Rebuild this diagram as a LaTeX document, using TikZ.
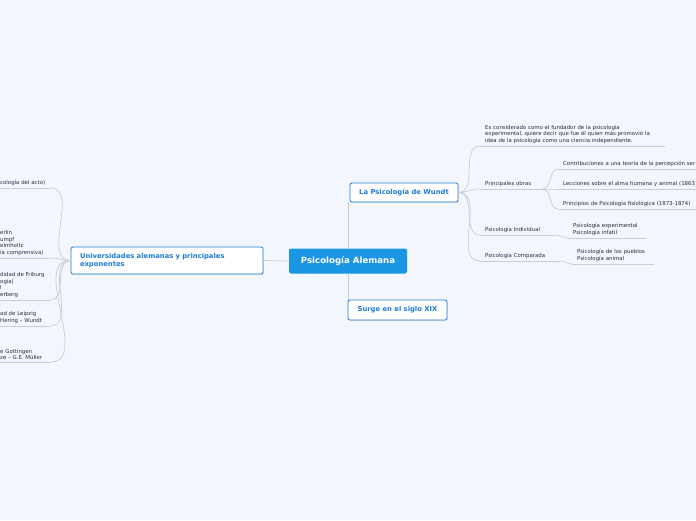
\documentclass[tikz,border=0pt]{standalone}
\usepackage{fontspec}
\setmainfont{DejaVu Sans}
\usetikzlibrary{shadows}
\definecolor{bgblue}{RGB}{243,246,252}
\definecolor{mainblue}{RGB}{27,150,229}
\definecolor{topicblue}{RGB}{29,125,218}
\definecolor{linegray}{RGB}{200,205,213}
\definecolor{leafgray}{RGB}{45,45,55}

\begin{document}
\begin{tikzpicture}[x=1pt,y=-1pt,
  branch/.style={draw=linegray,line width=0.7pt},
  central/.style={fill=mainblue,text=white,rounded corners=2pt,font=\fontsize{8.6}{10}\selectfont\bfseries,minimum width=118pt,minimum height=25pt,inner sep=0pt},
  topic/.style={draw=topicblue,fill=white,text=topicblue,line width=0.8pt,rounded corners=2pt,font=\fontsize{6.8}{8.4}\selectfont\bfseries,inner sep=0pt,drop shadow={opacity=0.2,shadow xshift=0.6pt,shadow yshift=-0.8pt}},
  leaf/.style={anchor=south west,align=left,text=leafgray,font=\fontsize{5.4}{6.7}\selectfont,inner xsep=5pt,inner ysep=2pt},
  edgeleaf/.style={leaf,inner xsep=0pt,text width=50pt}]
\useasboundingbox (0,0) rectangle (696,520);
\clip (0,0) rectangle (696,520);
\fill[bgblue] (0,0) rectangle (696,520);

% main topics
\node[central] (alemana) at (348,261) {Psicología Alemana};
\node[topic,minimum width=108pt,minimum height=19pt] (wundt) at (404,192.5) {La Psicología de Wundt};
\node[topic,minimum width=99pt,minimum height=20pt] (siglo) at (397.5,310) {Surge en el siglo XIX};
\node[topic,minimum width=192pt,minimum height=27pt,text width=174pt,align=left] (univ) at (167,260.5) {Universidades alemanas y principales\\exponentes};

% Wundt
\node[leaf,text width=175pt] (fundador) at (480,146) {Es considerado como el fundador de la psicología\\experimental, quiere decir que fue él quien más promovió la\\idea de la psicología como una ciencia independiente.};
\node[leaf,text width=52pt] (obras) at (480,189) {Principales obras};
\node[leaf,text width=65pt] (individual) at (480,235) {Psicología Individual};
\node[leaf,text width=70pt] (comparada) at (480,261) {Psicología Comparada};
\node[leaf,text width=150pt] (percepcion) at (558,169) {Contribuciones a una teoría de la percepción ser};
\node[leaf,text width=150pt] (lecciones) at (558,189) {Lecciones sobre el alma humana y animal (1863};
\node[leaf,text width=150pt] (principios) at (558,209) {Principios de Psicología fisiológica (1873-1874)};
\node[leaf,text width=68pt] (experimental) at (568,238) {Psicología experimental\\Psicología infatil};
\node[leaf,text width=72pt] (pueblos) at (572,264) {Psicología de los pueblos\\Psicología animal};

% universidades
\node[edgeleaf] (viena) at (0,188) {cología del acto)};
\node[edgeleaf] (berlin) at (0,258) {erlín\\umpf\\elmholtz\\ía comprensiva)};
\node[edgeleaf] (friburg) at (0,300) {didad de Friburg\\ogía)\\l\\erberg};
\node[edgeleaf] (leipzig) at (0,326) {ad de Leipzig\\Hering – Wundt};
\node[edgeleaf] (gottingen) at (0,362) {e Gottingen\\ze – G.E. Müller};

% underlines
\foreach \n in {fundador,obras,individual,comparada,percepcion,lecciones,principios,experimental,pueblos,viena,berlin,friburg,leipzig,gottingen}
  \draw[branch] (\n.south west) -- (\n.south east);

% connectors
\draw[branch] (alemana.west) -- (univ.east);
\draw[branch] (alemana.north) -- (alemana.north |- wundt.south);
\draw[branch] (alemana.south) -- (alemana.south |- siglo.north);
\foreach \n in {fundador,obras,individual,comparada}
  \draw[branch] (wundt.east) to[out=0,in=180] (\n.south west);
\foreach \n in {percepcion,lecciones,principios}
  \draw[branch] (obras.south east) to[out=0,in=180] (\n.south west);
\draw[branch] (individual.south east) to[out=0,in=180] (experimental.south west);
\draw[branch] (comparada.south east) to[out=0,in=180] (pueblos.south west);
\foreach \n in {viena,berlin,friburg,leipzig,gottingen}
  \draw[branch] (univ.west) to[out=180,in=0] (\n.south east);
\end{tikzpicture}
\end{document}
